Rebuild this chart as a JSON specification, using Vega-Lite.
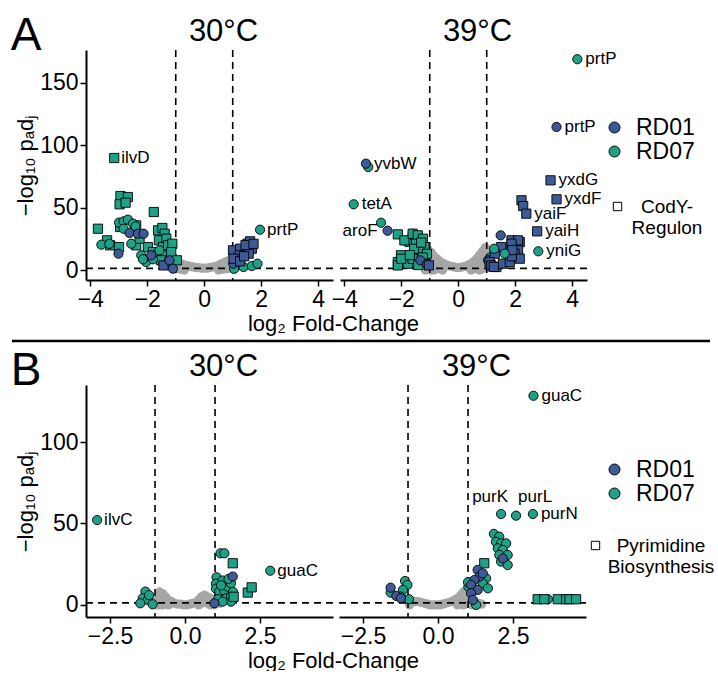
{
  "$schema": "https://vega.github.io/schema/vega-lite/v6.json",
  "background": "white",
  "padding": {"left": 10, "top": 13, "right": 0, "bottom": 0},
  "config": {
    "font": "Liberation Sans",
    "view": {"stroke": null},
    "axis": {"domainColor": "black", "domainWidth": 2, "tickColor": "black", "tickWidth": 1.5, "tickSize": 6, "labelColor": "black", "labelFontSize": 23, "titleFontSize": 22, "titleFontWeight": "normal", "titleColor": "black", "grid": false, "labelPadding": 2, "titlePadding": 2},
    "title": {"fontSize": 31, "fontWeight": "normal", "color": "black", "offset": 1},
    "legend": {"labelColor": "black", "labelFont": "Liberation Sans"}
  },
  "datasets": {
    "vthr": [{"lfc": -1}, {"lfc": 1}],
    "hthr": [{"nlp": 1.3}],
    "sep": [{"a": -0.1186, "b": 1, "s": 0}],
    "a30g": [
      {"lfc": -1.1, "nlp": 8}, {"lfc": -1.1, "nlp": 2}, {"lfc": -1.0, "nlp": 7}, {"lfc": -1.0, "nlp": 1}, {"lfc": -0.9, "nlp": 6}, {"lfc": -0.9, "nlp": 1},
      {"lfc": -0.8, "nlp": 5}, {"lfc": -0.8, "nlp": 0.5}, {"lfc": -0.7, "nlp": 4}, {"lfc": -0.7, "nlp": 0}, {"lfc": -0.6, "nlp": 3.5}, {"lfc": -0.5, "nlp": 3},
      {"lfc": -0.4, "nlp": 2.5}, {"lfc": -0.3, "nlp": 2}, {"lfc": -0.2, "nlp": 2}, {"lfc": -0.1, "nlp": 1.5}, {"lfc": 0, "nlp": 1.5}, {"lfc": 0.1, "nlp": 1.5},
      {"lfc": 0.2, "nlp": 2}, {"lfc": 0.3, "nlp": 2.5}, {"lfc": 0.4, "nlp": 3}, {"lfc": 0.5, "nlp": 3.5}, {"lfc": 0.5, "nlp": 0}, {"lfc": 0.6, "nlp": 5},
      {"lfc": 0.6, "nlp": 0.5}, {"lfc": 0.7, "nlp": 6}, {"lfc": 0.7, "nlp": 1}, {"lfc": 0.8, "nlp": 7}, {"lfc": 0.8, "nlp": 1}, {"lfc": 0.9, "nlp": 8},
      {"lfc": 0.9, "nlp": 1.5}, {"lfc": 1.0, "nlp": 7}, {"lfc": 1.0, "nlp": 1}, {"lfc": 1.1, "nlp": 5}
    ],
    "a39g": [
      {"lfc": -1.15, "nlp": 12}, {"lfc": -1.15, "nlp": 6}, {"lfc": -1.15, "nlp": 0}, {"lfc": -1.05, "nlp": 16}, {"lfc": -1.05, "nlp": 9}, {"lfc": -1.05, "nlp": 2},
      {"lfc": -0.95, "nlp": 14}, {"lfc": -0.95, "nlp": 7}, {"lfc": -0.95, "nlp": 0}, {"lfc": -0.85, "nlp": 11}, {"lfc": -0.85, "nlp": 5}, {"lfc": -0.85, "nlp": 0},
      {"lfc": -0.75, "nlp": 9}, {"lfc": -0.75, "nlp": 3}, {"lfc": -0.65, "nlp": 7}, {"lfc": -0.65, "nlp": 1}, {"lfc": -0.55, "nlp": 5.5}, {"lfc": -0.55, "nlp": 0},
      {"lfc": -0.45, "nlp": 4.5}, {"lfc": -0.35, "nlp": 3.5}, {"lfc": -0.25, "nlp": 3}, {"lfc": -0.15, "nlp": 2.5}, {"lfc": -0.05, "nlp": 2}, {"lfc": 0.05, "nlp": 2},
      {"lfc": 0.15, "nlp": 2.5}, {"lfc": 0.25, "nlp": 3}, {"lfc": 0.35, "nlp": 4}, {"lfc": 0.45, "nlp": 5}, {"lfc": 0.45, "nlp": 0}, {"lfc": 0.55, "nlp": 7},
      {"lfc": 0.55, "nlp": 1}, {"lfc": 0.65, "nlp": 9}, {"lfc": 0.65, "nlp": 3}, {"lfc": 0.75, "nlp": 12}, {"lfc": 0.75, "nlp": 6}, {"lfc": 0.75, "nlp": 0},
      {"lfc": 0.85, "nlp": 15}, {"lfc": 0.85, "nlp": 8}, {"lfc": 0.85, "nlp": 1}, {"lfc": 0.95, "nlp": 18}, {"lfc": 0.95, "nlp": 11}, {"lfc": 0.95, "nlp": 4},
      {"lfc": 1.05, "nlp": 16}, {"lfc": 1.05, "nlp": 9}, {"lfc": 1.05, "nlp": 2}, {"lfc": 1.15, "nlp": 10}, {"lfc": 1.15, "nlp": 4}
    ],
    "b30g": [
      {"lfc": -0.95, "nlp": 3}, {"lfc": -0.95, "nlp": 0}, {"lfc": -0.85, "nlp": 8}, {"lfc": -0.85, "nlp": 4}, {"lfc": -0.85, "nlp": 0}, {"lfc": -0.75, "nlp": 7},
      {"lfc": -0.75, "nlp": 3}, {"lfc": -0.75, "nlp": 0}, {"lfc": -0.65, "nlp": 5}, {"lfc": -0.65, "nlp": 1}, {"lfc": -0.55, "nlp": 3}, {"lfc": -0.55, "nlp": 0},
      {"lfc": -0.45, "nlp": 2}, {"lfc": -0.35, "nlp": 1}, {"lfc": -0.25, "nlp": 0.5}, {"lfc": -0.15, "nlp": 0.5}, {"lfc": -0.05, "nlp": 0}, {"lfc": 0.05, "nlp": 0},
      {"lfc": 0.15, "nlp": 0.5}, {"lfc": 0.25, "nlp": 1}, {"lfc": 0.35, "nlp": 1.5}, {"lfc": 0.45, "nlp": 3}, {"lfc": 0.45, "nlp": 0}, {"lfc": 0.55, "nlp": 5},
      {"lfc": 0.55, "nlp": 1}, {"lfc": 0.65, "nlp": 6}, {"lfc": 0.65, "nlp": 2}, {"lfc": 0.75, "nlp": 5}, {"lfc": 0.75, "nlp": 1}, {"lfc": 0.85, "nlp": 4},
      {"lfc": 0.85, "nlp": 0}, {"lfc": 0.95, "nlp": 3}, {"lfc": 0.95, "nlp": 0}, {"lfc": 1.05, "nlp": 2}, {"lfc": 1.15, "nlp": 1}
    ],
    "b39g": [
      {"lfc": -0.95, "nlp": 3}, {"lfc": -0.95, "nlp": 0}, {"lfc": -0.85, "nlp": 2.5}, {"lfc": -0.75, "nlp": 2}, {"lfc": -0.65, "nlp": 2}, {"lfc": -0.55, "nlp": 1.5},
      {"lfc": -0.45, "nlp": 1}, {"lfc": -0.35, "nlp": 0.5}, {"lfc": -0.25, "nlp": 0}, {"lfc": -0.15, "nlp": 0}, {"lfc": -0.05, "nlp": 0}, {"lfc": 0.05, "nlp": 0},
      {"lfc": 0.15, "nlp": 0.5}, {"lfc": 0.25, "nlp": 1}, {"lfc": 0.35, "nlp": 1.5}, {"lfc": 0.45, "nlp": 2}, {"lfc": 0.55, "nlp": 3}, {"lfc": 0.65, "nlp": 4},
      {"lfc": 0.65, "nlp": 0}, {"lfc": 0.75, "nlp": 6}, {"lfc": 0.75, "nlp": 2}, {"lfc": 0.85, "nlp": 8}, {"lfc": 0.85, "nlp": 4}, {"lfc": 0.85, "nlp": 0},
      {"lfc": 0.95, "nlp": 9}, {"lfc": 0.95, "nlp": 5}, {"lfc": 0.95, "nlp": 1}, {"lfc": 1.05, "nlp": 6}, {"lfc": 1.05, "nlp": 2}, {"lfc": 1.15, "nlp": 3},
      {"lfc": 1.15, "nlp": 0}, {"lfc": 1.25, "nlp": 1.5}, {"lfc": 1.35, "nlp": 1}, {"lfc": 1.45, "nlp": 0.5}
    ],
    "a30": [
      {"lfc": -3.16, "nlp": 89.8, "strain": "RD07", "set": "CodY-Regulon", "gene": "ilvD"},
      {"lfc": -2.94, "nlp": 59.3, "strain": "RD07", "set": "CodY-Regulon"}, {"lfc": -2.68, "nlp": 58.5, "strain": "RD07", "set": "CodY-Regulon"},
      {"lfc": -2.97, "nlp": 52.7, "strain": "RD07", "set": "CodY-Regulon"}, {"lfc": -2.76, "nlp": 54, "strain": "RD07", "set": "CodY-Regulon"},
      {"lfc": -3.73, "nlp": 33.1, "strain": "RD07", "set": "CodY-Regulon"}, {"lfc": -3.41, "nlp": 23.8, "strain": "RD07", "set": "CodY-Regulon"},
      {"lfc": -3.30, "nlp": 19.8, "strain": "RD07", "set": "CodY-Regulon"}, {"lfc": -2.99, "nlp": 18.4, "strain": "RD07", "set": "CodY-Regulon"},
      {"lfc": -2.95, "nlp": 34.5, "strain": "RD07", "set": "CodY-Regulon"}, {"lfc": -2.39, "nlp": 35.8, "strain": "RD07", "set": "CodY-Regulon"},
      {"lfc": -1.77, "nlp": 46.5, "strain": "RD07", "set": "CodY-Regulon"}, {"lfc": -2.39, "nlp": 19.8, "strain": "RD07", "set": "CodY-Regulon"},
      {"lfc": -1.62, "nlp": 31.8, "strain": "RD07", "set": "CodY-Regulon"}, {"lfc": -1.47, "nlp": 33.7, "strain": "RD07", "set": "CodY-Regulon"},
      {"lfc": -1.39, "nlp": 29.1, "strain": "RD07", "set": "CodY-Regulon"}, {"lfc": -1.59, "nlp": 23.8, "strain": "RD07", "set": "CodY-Regulon"},
      {"lfc": -1.33, "nlp": 25.1, "strain": "RD07", "set": "CodY-Regulon"}, {"lfc": -1.45, "nlp": 18.4, "strain": "RD07", "set": "CodY-Regulon"},
      {"lfc": -1.27, "nlp": 19.8, "strain": "RD07", "set": "CodY-Regulon"}, {"lfc": -1.12, "nlp": 21.1, "strain": "RD07", "set": "CodY-Regulon"},
      {"lfc": -1.98, "nlp": 18.4, "strain": "RD07", "set": "CodY-Regulon"}, {"lfc": -1.80, "nlp": 14.4, "strain": "RD07", "set": "CodY-Regulon"},
      {"lfc": -1.62, "nlp": 11.8, "strain": "RD07", "set": "CodY-Regulon"}, {"lfc": -1.33, "nlp": 11.8, "strain": "RD07", "set": "CodY-Regulon"},
      {"lfc": -1.16, "nlp": 14.4, "strain": "RD07", "set": "CodY-Regulon"}, {"lfc": -1.51, "nlp": 7.8, "strain": "RD07", "set": "CodY-Regulon"},
      {"lfc": -1.22, "nlp": 6.4, "strain": "RD07", "set": "CodY-Regulon"}, {"lfc": -2.27, "nlp": 25.1, "strain": "RD07", "set": "CodY-Regulon"},
      {"lfc": -0.96, "nlp": 7.8, "strain": "RD07", "set": "CodY-Regulon"},
      {"lfc": -3.61, "nlp": 20.3, "strain": "RD07", "set": "Other"}, {"lfc": -3.33, "nlp": 21, "strain": "RD07", "set": "Other"},
      {"lfc": -2.99, "nlp": 38, "strain": "RD07", "set": "Other"}, {"lfc": -2.83, "nlp": 39, "strain": "RD07", "set": "Other"},
      {"lfc": -2.68, "nlp": 40.4, "strain": "RD07", "set": "Other"}, {"lfc": -2.50, "nlp": 37.2, "strain": "RD07", "set": "Other"},
      {"lfc": -2.41, "nlp": 35, "strain": "RD07", "set": "Other"}, {"lfc": -2.83, "nlp": 33.1, "strain": "RD07", "set": "Other"},
      {"lfc": -2.56, "nlp": 21.1, "strain": "RD07", "set": "Other"}, {"lfc": -2.21, "nlp": 11.8, "strain": "RD07", "set": "Other"},
      {"lfc": -2.04, "nlp": 6.4, "strain": "RD07", "set": "Other"}, {"lfc": -2.15, "nlp": 8.6, "strain": "RD07", "set": "Other"},
      {"lfc": -1.57, "nlp": 15.8, "strain": "RD07", "set": "Other"}, {"lfc": -1.80, "nlp": 8.6, "strain": "RD07", "set": "Other"},
      {"lfc": 1.09, "nlp": 2.4, "strain": "RD07", "set": "Other"}, {"lfc": 1.38, "nlp": 2.4, "strain": "RD07", "set": "Other"},
      {"lfc": 1.67, "nlp": 3.2, "strain": "RD07", "set": "Other"}, {"lfc": 1.87, "nlp": 5.1, "strain": "RD07", "set": "Other"},
      {"lfc": 1.05, "nlp": 1.0, "strain": "RD07", "set": "Other"}, {"lfc": 1.96, "nlp": 32.3, "strain": "RD07", "set": "Other", "gene": "prtP"},
      {"lfc": -1.43, "nlp": 3.7, "strain": "RD01", "set": "CodY-Regulon"},
      {"lfc": -3.01, "nlp": 13.1, "strain": "RD01", "set": "Other"}, {"lfc": -2.62, "nlp": 29.7, "strain": "RD01", "set": "Other"},
      {"lfc": -2.33, "nlp": 29.1, "strain": "RD01", "set": "Other"}, {"lfc": -2.13, "nlp": 29.1, "strain": "RD01", "set": "Other"},
      {"lfc": -1.86, "nlp": 11.8, "strain": "RD01", "set": "Other"}, {"lfc": -1.22, "nlp": 7.8, "strain": "RD01", "set": "Other"},
      {"lfc": -1.10, "nlp": 1.1, "strain": "RD01", "set": "Other"}, {"lfc": 1.02, "nlp": 5.1, "strain": "RD01", "set": "Other"},
      {"lfc": 1.01, "nlp": 15.8, "strain": "RD01", "set": "CodY-Regulon"}, {"lfc": 1.26, "nlp": 17.1, "strain": "RD01", "set": "CodY-Regulon"},
      {"lfc": 1.24, "nlp": 11.8, "strain": "RD01", "set": "CodY-Regulon"}, {"lfc": 1.52, "nlp": 21.1, "strain": "RD01", "set": "CodY-Regulon"},
      {"lfc": 1.61, "nlp": 23.0, "strain": "RD01", "set": "CodY-Regulon"}, {"lfc": 1.67, "nlp": 17.1, "strain": "RD01", "set": "CodY-Regulon"},
      {"lfc": 1.56, "nlp": 13.1, "strain": "RD01", "set": "CodY-Regulon"}, {"lfc": 1.03, "nlp": 9.1, "strain": "RD01", "set": "CodY-Regulon"},
      {"lfc": 1.26, "nlp": 7.0, "strain": "RD01", "set": "CodY-Regulon"}, {"lfc": 1.45, "nlp": 20, "strain": "RD01", "set": "CodY-Regulon"},
      {"lfc": 1.73, "nlp": 21, "strain": "RD01", "set": "CodY-Regulon"}, {"lfc": 1.40, "nlp": 11, "strain": "RD01", "set": "CodY-Regulon"}
    ],
    "a39": [
      {"lfc": 4.18, "nlp": 169, "strain": "RD07", "set": "Other", "gene": "prtP"}, {"lfc": -3.16, "nlp": 82.6, "strain": "RD07", "set": "Other"},
      {"lfc": -3.67, "nlp": 52.7, "strain": "RD07", "set": "Other", "gene": "tetA"}, {"lfc": -2.71, "nlp": 37.9, "strain": "RD07", "set": "Other"},
      {"lfc": -1.80, "nlp": 22.4, "strain": "RD07", "set": "Other"}, {"lfc": -1.6, "nlp": 29, "strain": "RD07", "set": "Other"},
      {"lfc": 2.81, "nlp": 15, "strain": "RD07", "set": "Other", "gene": "yniG"}, {"lfc": 1.12, "nlp": 10, "strain": "RD07", "set": "Other"},
      {"lfc": -2.12, "nlp": 28.6, "strain": "RD07", "set": "CodY-Regulon"}, {"lfc": -1.89, "nlp": 23.8, "strain": "RD07", "set": "CodY-Regulon"},
      {"lfc": -1.60, "nlp": 29.1, "strain": "RD07", "set": "CodY-Regulon"}, {"lfc": -1.42, "nlp": 27.8, "strain": "RD07", "set": "CodY-Regulon"},
      {"lfc": -1.24, "nlp": 25.1, "strain": "RD07", "set": "CodY-Regulon"}, {"lfc": -1.48, "nlp": 21.1, "strain": "RD07", "set": "CodY-Regulon"},
      {"lfc": -1.18, "nlp": 18.4, "strain": "RD07", "set": "CodY-Regulon"}, {"lfc": -1.36, "nlp": 14.4, "strain": "RD07", "set": "CodY-Regulon"},
      {"lfc": -1.10, "nlp": 13, "strain": "RD07", "set": "CodY-Regulon"}, {"lfc": -2.12, "nlp": 6.4, "strain": "RD07", "set": "CodY-Regulon"},
      {"lfc": -2.01, "nlp": 11.8, "strain": "RD07", "set": "CodY-Regulon"}, {"lfc": -1.77, "nlp": 5.1, "strain": "RD07", "set": "CodY-Regulon"},
      {"lfc": -1.6, "nlp": 9, "strain": "RD07", "set": "CodY-Regulon"}, {"lfc": -2.12, "nlp": 3.7, "strain": "RD07", "set": "CodY-Regulon"},
      {"lfc": -2.0, "nlp": 9, "strain": "RD07", "set": "CodY-Regulon"}, {"lfc": -1.55, "nlp": 17, "strain": "RD07", "set": "CodY-Regulon"},
      {"lfc": -1.3, "nlp": 22, "strain": "RD07", "set": "CodY-Regulon"}, {"lfc": -1.7, "nlp": 12, "strain": "RD07", "set": "CodY-Regulon"},
      {"lfc": -1.4, "nlp": 4, "strain": "RD07", "set": "CodY-Regulon"}, {"lfc": -1.25, "nlp": 10, "strain": "RD07", "set": "CodY-Regulon"},
      {"lfc": 3.45, "nlp": 114.7, "strain": "RD01", "set": "Other", "gene": "prtP"}, {"lfc": -3.24, "nlp": 85.3, "strain": "RD01", "set": "Other", "gene": "yvbW"},
      {"lfc": -2.48, "nlp": 31.5, "strain": "RD01", "set": "Other", "gene": "aroF"}, {"lfc": -1.33, "nlp": 7.8, "strain": "RD01", "set": "Other"},
      {"lfc": -1.1, "nlp": 5, "strain": "RD01", "set": "Other"}, {"lfc": 1.49, "nlp": 27.8, "strain": "RD01", "set": "Other"},
      {"lfc": 1.05, "nlp": 7.8, "strain": "RD01", "set": "Other"}, {"lfc": -1.03, "nlp": 3.7, "strain": "RD01", "set": "CodY-Regulon"},
      {"lfc": 3.24, "nlp": 71.9, "strain": "RD01", "set": "CodY-Regulon", "gene": "yxdG"}, {"lfc": 3.45, "nlp": 56.7, "strain": "RD01", "set": "CodY-Regulon", "gene": "yxdF"},
      {"lfc": 2.22, "nlp": 55.9, "strain": "RD01", "set": "CodY-Regulon"}, {"lfc": 2.28, "nlp": 51.3, "strain": "RD01", "set": "CodY-Regulon"},
      {"lfc": 2.39, "nlp": 45.2, "strain": "RD01", "set": "CodY-Regulon", "gene": "yaiF"}, {"lfc": 2.77, "nlp": 31.0, "strain": "RD01", "set": "CodY-Regulon", "gene": "yaiH"},
      {"lfc": 1.87, "nlp": 23.8, "strain": "RD01", "set": "CodY-Regulon"}, {"lfc": 2.16, "nlp": 22.4, "strain": "RD01", "set": "CodY-Regulon"},
      {"lfc": 2.10, "nlp": 15.8, "strain": "RD01", "set": "CodY-Regulon"}, {"lfc": 1.98, "nlp": 13.1, "strain": "RD01", "set": "CodY-Regulon"},
      {"lfc": 1.69, "nlp": 17.1, "strain": "RD01", "set": "CodY-Regulon"}, {"lfc": 1.51, "nlp": 18.4, "strain": "RD01", "set": "CodY-Regulon"},
      {"lfc": 1.28, "nlp": 13.1, "strain": "RD01", "set": "CodY-Regulon"}, {"lfc": 1.10, "nlp": 6.4, "strain": "RD01", "set": "CodY-Regulon"},
      {"lfc": 1.34, "nlp": 2.4, "strain": "RD01", "set": "CodY-Regulon"}, {"lfc": 1.57, "nlp": 5.1, "strain": "RD01", "set": "CodY-Regulon"},
      {"lfc": 1.81, "nlp": 6.4, "strain": "RD01", "set": "CodY-Regulon"}, {"lfc": 2.16, "nlp": 9.1, "strain": "RD01", "set": "CodY-Regulon"},
      {"lfc": 1.88, "nlp": 11, "strain": "RD01", "set": "CodY-Regulon"}, {"lfc": 2.10, "nlp": 23.8, "strain": "RD01", "set": "CodY-Regulon"},
      {"lfc": 1.87, "nlp": 21.1, "strain": "RD01", "set": "CodY-Regulon"}, {"lfc": 1.9, "nlp": 16, "strain": "RD01", "set": "CodY-Regulon"},
      {"lfc": 1.16, "nlp": 3.7, "strain": "RD01", "set": "CodY-Regulon"}, {"lfc": 1.25, "nlp": 2.5, "strain": "RD01", "set": "CodY-Regulon"},
      {"lfc": 1.26, "nlp": 17.1, "strain": "RD07", "set": "Other"}, {"lfc": 1.63, "nlp": 13.1, "strain": "RD07", "set": "Other"}
    ],
    "b30": [
      {"lfc": -2.93, "nlp": 52.1, "strain": "RD07", "set": "Other", "gene": "ilvC"}, {"lfc": 2.84, "nlp": 21, "strain": "RD07", "set": "Other", "gene": "guaC"},
      {"lfc": -1.32, "nlp": 8.2, "strain": "RD07", "set": "Other"}, {"lfc": -1.41, "nlp": 4.1, "strain": "RD07", "set": "Other"},
      {"lfc": -1.24, "nlp": 3.1, "strain": "RD07", "set": "Other"}, {"lfc": -1.08, "nlp": 0.4, "strain": "RD07", "set": "Other"},
      {"lfc": -1.49, "nlp": 1.0, "strain": "RD07", "set": "Other"}, {"lfc": -1.2, "nlp": 6, "strain": "RD07", "set": "Other"},
      {"lfc": 1.18, "nlp": 31.7, "strain": "RD07", "set": "Other"}, {"lfc": 1.31, "nlp": 31.7, "strain": "RD07", "set": "Other"},
      {"lfc": 1.05, "nlp": 17, "strain": "RD07", "set": "Other"}, {"lfc": 1.03, "nlp": 13, "strain": "RD07", "set": "Other"},
      {"lfc": 1.03, "nlp": 10, "strain": "RD07", "set": "Other"}, {"lfc": 1.14, "nlp": 8.2, "strain": "RD07", "set": "Other"},
      {"lfc": 1.30, "nlp": 9, "strain": "RD07", "set": "Other"}, {"lfc": 1.42, "nlp": 11.2, "strain": "RD07", "set": "Other"},
      {"lfc": 1.53, "nlp": 13.3, "strain": "RD07", "set": "Other"}, {"lfc": 1.37, "nlp": 4.1, "strain": "RD07", "set": "Other"},
      {"lfc": 1.53, "nlp": 5.1, "strain": "RD07", "set": "Other"}, {"lfc": 1.10, "nlp": 3.5, "strain": "RD07", "set": "Other"},
      {"lfc": 1.53, "nlp": 2.0, "strain": "RD07", "set": "Other"}, {"lfc": 1.25, "nlp": 15, "strain": "RD07", "set": "Other"},
      {"lfc": 1.45, "nlp": 16, "strain": "RD07", "set": "Other"}, {"lfc": 1.2, "nlp": 12, "strain": "RD07", "set": "Other"},
      {"lfc": 1.6, "nlp": 8, "strain": "RD07", "set": "Other"}, {"lfc": 1.25, "nlp": 2, "strain": "RD07", "set": "Other"},
      {"lfc": 1.59, "nlp": 25.6, "strain": "RD07", "set": "Pyrimidine Biosynthesis"}, {"lfc": 2.09, "nlp": 7.6, "strain": "RD07", "set": "Pyrimidine Biosynthesis"},
      {"lfc": 2.22, "nlp": 10.8, "strain": "RD07", "set": "Pyrimidine Biosynthesis"}, {"lfc": 1.62, "nlp": 5, "strain": "RD07", "set": "Pyrimidine Biosynthesis"},
      {"lfc": 1.59, "nlp": 17.4, "strain": "RD01", "set": "Other"}, {"lfc": 0.98, "nlp": 1.0, "strain": "RD01", "set": "Other"}
    ],
    "b39": [
      {"lfc": 3.18, "nlp": 128.4, "strain": "RD07", "set": "Other", "gene": "guaC"}, {"lfc": 2.10, "nlp": 55.8, "strain": "RD07", "set": "Other", "gene": "purK"},
      {"lfc": 2.60, "nlp": 54.8, "strain": "RD07", "set": "Other", "gene": "purL"}, {"lfc": 3.16, "nlp": 55.8, "strain": "RD07", "set": "Other", "gene": "purN"},
      {"lfc": 1.86, "nlp": 43.6, "strain": "RD07", "set": "Other"}, {"lfc": 2.04, "nlp": 41.9, "strain": "RD07", "set": "Other"},
      {"lfc": 1.93, "nlp": 38.8, "strain": "RD07", "set": "Other"}, {"lfc": 2.10, "nlp": 37.8, "strain": "RD07", "set": "Other"},
      {"lfc": 2.27, "nlp": 37.8, "strain": "RD07", "set": "Other"}, {"lfc": 1.99, "nlp": 34.8, "strain": "RD07", "set": "Other"},
      {"lfc": 2.16, "nlp": 33.7, "strain": "RD07", "set": "Other"}, {"lfc": 2.32, "nlp": 30.7, "strain": "RD07", "set": "Other"},
      {"lfc": 2.04, "nlp": 30.7, "strain": "RD07", "set": "Other"}, {"lfc": 2.10, "nlp": 26.6, "strain": "RD07", "set": "Other"},
      {"lfc": 2.32, "nlp": 24.5, "strain": "RD07", "set": "Other"}, {"lfc": 1.60, "nlp": 16.4, "strain": "RD07", "set": "Other"},
      {"lfc": 1.49, "nlp": 13.3, "strain": "RD07", "set": "Other"}, {"lfc": 1.66, "nlp": 10.2, "strain": "RD07", "set": "Other"},
      {"lfc": 1.01, "nlp": 11.2, "strain": "RD07", "set": "Other"}, {"lfc": 1.27, "nlp": 0, "strain": "RD07", "set": "Other"},
      {"lfc": 1.0, "nlp": 14, "strain": "RD07", "set": "Other"}, {"lfc": 3.66, "nlp": 3.5, "strain": "RD07", "set": "Other"},
      {"lfc": -1.58, "nlp": 7.6, "strain": "RD07", "set": "Other"}, {"lfc": -1.10, "nlp": 14.7, "strain": "RD07", "set": "Other"},
      {"lfc": -1.02, "nlp": 12.3, "strain": "RD07", "set": "Other"}, {"lfc": -1.17, "nlp": 9.2, "strain": "RD07", "set": "Other"},
      {"lfc": -0.97, "nlp": 3.5, "strain": "RD07", "set": "Other"}, {"lfc": -1.24, "nlp": 5.1, "strain": "RD07", "set": "Other"},
      {"lfc": 1.54, "nlp": 25.6, "strain": "RD07", "set": "Pyrimidine Biosynthesis"}, {"lfc": 3.32, "nlp": 3.5, "strain": "RD07", "set": "Pyrimidine Biosynthesis"},
      {"lfc": 3.54, "nlp": 3.5, "strain": "RD07", "set": "Pyrimidine Biosynthesis"}, {"lfc": 3.99, "nlp": 3.5, "strain": "RD07", "set": "Pyrimidine Biosynthesis"},
      {"lfc": 4.27, "nlp": 3.5, "strain": "RD07", "set": "Pyrimidine Biosynthesis"}, {"lfc": 4.38, "nlp": 3.5, "strain": "RD07", "set": "Pyrimidine Biosynthesis"},
      {"lfc": 4.6, "nlp": 3.5, "strain": "RD07", "set": "Pyrimidine Biosynthesis"},
      {"lfc": 2.16, "nlp": 28.6, "strain": "RD01", "set": "Other"}, {"lfc": 1.32, "nlp": 21.5, "strain": "RD01", "set": "Other"},
      {"lfc": 1.38, "nlp": 17.4, "strain": "RD01", "set": "Other"}, {"lfc": 1.49, "nlp": 19.4, "strain": "RD01", "set": "Other"},
      {"lfc": 1.21, "nlp": 15.3, "strain": "RD01", "set": "Other"}, {"lfc": 1.10, "nlp": 12.3, "strain": "RD01", "set": "Other"},
      {"lfc": 1.32, "nlp": 9.2, "strain": "RD01", "set": "Other"}, {"lfc": 1.10, "nlp": 7.2, "strain": "RD01", "set": "Other"},
      {"lfc": 1.16, "nlp": 3.1, "strain": "RD01", "set": "Other"}, {"lfc": -1.58, "nlp": 10.6, "strain": "RD01", "set": "Other"},
      {"lfc": -1.39, "nlp": 5.5, "strain": "RD01", "set": "Other"}, {"lfc": -1.24, "nlp": 4.1, "strain": "RD01", "set": "Other"}
    ]
  },
  "spacing": 5,
  "resolve": {"scale": {"color": "independent", "shape": "independent"}, "legend": {"color": "independent", "shape": "independent"}},
  "vconcat": [
    {
      "title": {"text": "A", "anchor": "start", "fontSize": 46, "dy": 44, "dx": -4, "offset": 0},
      "bounds": "flush",
      "spacing": 7,
      "hconcat": [
        {
          "width": 247, "height": 230,
          "title": {"text": "30°C", "frame": "group", "dx": 14},
          "layer": [
            {"data": {"name": "a30g"}, "mark": {"type": "point", "filled": true, "color": "#a6a6a6", "size": 85, "opacity": 1, "strokeWidth": 0},
             "encoding": {"x": {"field": "lfc", "type": "quantitative", "scale": {"domain": [-4.15, 4.52], "nice": false, "zero": false}, "axis": {"values": [-4, -2, 0, 2, 4], "title": "log₂ Fold-Change", "titleAnchor": "end", "titleAlign": "center"}},
                          "y": {"field": "nlp", "type": "quantitative", "scale": {"domain": [-8, 176.4], "nice": false, "zero": false}, "axis": {"values": [0, 50, 100, 150], "title": "−log₁₀ pₐdⱼ"}}}},
            {"data": {"name": "vthr"}, "mark": {"type": "rule", "strokeDash": [7, 5], "strokeWidth": 1.6, "color": "black"},
             "encoding": {"x": {"field": "lfc", "type": "quantitative"}}},
            {"data": {"name": "hthr"}, "mark": {"type": "rule", "strokeDash": [7, 5], "strokeWidth": 1.6, "color": "black"},
             "encoding": {"y": {"field": "nlp", "type": "quantitative"}}},
            {"data": {"name": "a30"}, "mark": {"type": "point", "filled": true, "stroke": "black", "strokeWidth": 0.9, "size": 85, "opacity": 1},
             "encoding": {"x": {"field": "lfc", "type": "quantitative"}, "y": {"field": "nlp", "type": "quantitative"},
                          "color": {"field": "strain", "type": "nominal", "scale": {"domain": ["RD01", "RD07"], "range": ["#3d5a96", "#1fa187"]},
                                    "legend": {"title": null, "orient": "none", "legendX": 517, "legendY": 66, "symbolType": "circle", "symbolSize": 120, "symbolStrokeColor": "black", "symbolStrokeWidth": 1, "labelFontSize": 23, "labelOffset": 10, "rowPadding": -6, "padding": 0, "symbolOpacity": 1,
                                               "encode": {"symbols": {"update": {"stroke": {"value": "black"}, "strokeWidth": {"value": 1}}}}}},
                          "shape": {"field": "set", "type": "nominal", "scale": {"domain": ["Other", "CodY-Regulon"], "range": ["circle", "square"]},
                                    "legend": {"title": null, "orient": "none", "legendX": 522, "legendY": 147, "values": ["CodY-Regulon"], "symbolSize": 70, "symbolFillColor": "white", "symbolStrokeColor": "black", "symbolStrokeWidth": 1, "labelFontSize": 19, "labelAlign": "center", "labelOffset": 40, "padding": 0,
                                               "labelExpr": "datum.label == 'CodY-Regulon' ? ['CodY-', 'Regulon'] : datum.label",
                                               "encode": {"symbols": {"update": {"fill": {"value": "white"}, "stroke": {"value": "black"}, "strokeWidth": {"value": 1}}}, "labels": {"update": {"lineHeight": {"value": 26}}}}}}}},
            {"data": {"name": "a30"}, "transform": [{"filter": "indexof(['ilvD','prtP'], datum.gene) >= 0"}],
             "mark": {"type": "text", "align": "left", "baseline": "middle", "dx": 7, "fontSize": 17, "color": "black"},
             "encoding": {"x": {"field": "lfc", "type": "quantitative"}, "y": {"field": "nlp", "type": "quantitative"}, "text": {"field": "gene"}}}
          ]
        },
        {
          "width": 247, "height": 230,
          "title": {"text": "39°C", "frame": "group", "dx": 14},
          "layer": [
            {"data": {"name": "a39g"}, "mark": {"type": "point", "filled": true, "color": "#a6a6a6", "size": 85, "opacity": 1, "strokeWidth": 0},
             "encoding": {"x": {"field": "lfc", "type": "quantitative", "scale": {"domain": [-4.15, 4.52], "nice": false, "zero": false}, "axis": {"values": [-4, -2, 0, 2, 4], "title": null}},
                          "y": {"field": "nlp", "type": "quantitative", "scale": {"domain": [-8, 176.4], "nice": false, "zero": false}, "axis": null}}},
            {"data": {"name": "vthr"}, "mark": {"type": "rule", "strokeDash": [7, 5], "strokeWidth": 1.6, "color": "black"},
             "encoding": {"x": {"field": "lfc", "type": "quantitative"}}},
            {"data": {"name": "hthr"}, "mark": {"type": "rule", "strokeDash": [7, 5], "strokeWidth": 1.6, "color": "black"},
             "encoding": {"y": {"field": "nlp", "type": "quantitative", "axis": null}}},
            {"data": {"name": "a39"}, "mark": {"type": "point", "filled": true, "stroke": "black", "strokeWidth": 0.9, "size": 85, "opacity": 1},
             "encoding": {"x": {"field": "lfc", "type": "quantitative"}, "y": {"field": "nlp", "type": "quantitative", "axis": null},
                          "color": {"field": "strain", "type": "nominal", "scale": {"domain": ["RD01", "RD07"], "range": ["#3d5a96", "#1fa187"]}},
                          "shape": {"field": "set", "type": "nominal", "scale": {"domain": ["Other", "CodY-Regulon"], "range": ["circle", "square"]}}}},
            {"data": {"name": "a39"}, "transform": [{"filter": "indexof(['prtP','yvbW','tetA','yxdG','yxdF','yaiF','yaiH','yniG'], datum.gene) >= 0"}],
             "mark": {"type": "text", "align": "left", "baseline": "middle", "dx": 8, "fontSize": 17, "color": "black"},
             "encoding": {"x": {"field": "lfc", "type": "quantitative"}, "y": {"field": "nlp", "type": "quantitative", "axis": null}, "text": {"field": "gene"}}},
            {"data": {"name": "a39"}, "transform": [{"filter": "datum.gene == 'aroF'"}],
             "mark": {"type": "text", "align": "right", "baseline": "middle", "dx": -10, "fontSize": 17, "color": "black"},
             "encoding": {"x": {"field": "lfc", "type": "quantitative"}, "y": {"field": "nlp", "type": "quantitative", "axis": null}, "text": {"field": "gene"}}}
          ]
        }
      ]
    },
    {
      "width": 624, "height": 1,
      "data": {"name": "sep"},
      "mark": {"type": "rule", "strokeWidth": 2.5, "color": "black", "clip": false},
      "encoding": {
        "x": {"field": "a", "type": "quantitative", "scale": {"domain": [0, 1], "nice": false, "zero": false}, "axis": null},
        "x2": {"field": "b"},
        "y": {"field": "s", "type": "quantitative", "scale": {"domain": [0, 1]}, "axis": null}
      }
    },
    {
      "title": {"text": "B", "anchor": "start", "fontSize": 46, "dy": 44, "dx": -4, "offset": 0},
      "bounds": "flush",
      "spacing": 6,
      "hconcat": [
        {
          "width": 247, "height": 232,
          "title": {"text": "30°C", "frame": "group", "dx": 14},
          "layer": [
            {"data": {"name": "b30g"}, "mark": {"type": "point", "filled": true, "color": "#a6a6a6", "size": 85, "opacity": 1, "strokeWidth": 0},
             "encoding": {"x": {"field": "lfc", "type": "quantitative", "scale": {"domain": [-3.3, 4.93], "nice": false, "zero": false}, "axis": {"values": [-2.5, 0, 2.5], "format": ".1f", "title": "log₂ Fold-Change", "titleAnchor": "end", "titleAlign": "center"}},
                          "y": {"field": "nlp", "type": "quantitative", "scale": {"domain": [-7.4, 135], "nice": false, "zero": false}, "axis": {"values": [0, 50, 100], "title": "−log₁₀ pₐdⱼ"}}}},
            {"data": {"name": "vthr"}, "mark": {"type": "rule", "strokeDash": [7, 5], "strokeWidth": 1.6, "color": "black"},
             "encoding": {"x": {"field": "lfc", "type": "quantitative"}}},
            {"data": {"name": "hthr"}, "mark": {"type": "rule", "strokeDash": [7, 5], "strokeWidth": 1.6, "color": "black"},
             "encoding": {"y": {"field": "nlp", "type": "quantitative"}}},
            {"data": {"name": "b30"}, "mark": {"type": "point", "filled": true, "stroke": "black", "strokeWidth": 0.9, "size": 85, "opacity": 1},
             "encoding": {"x": {"field": "lfc", "type": "quantitative"}, "y": {"field": "nlp", "type": "quantitative"},
                          "color": {"field": "strain", "type": "nominal", "scale": {"domain": ["RD01", "RD07"], "range": ["#3d5a96", "#1fa187"]},
                                    "legend": {"title": null, "orient": "none", "legendX": 517, "legendY": 73, "symbolType": "circle", "symbolSize": 120, "symbolStrokeColor": "black", "symbolStrokeWidth": 1, "labelFontSize": 23, "labelOffset": 10, "rowPadding": -6, "padding": 0, "symbolOpacity": 1,
                                               "encode": {"symbols": {"update": {"stroke": {"value": "black"}, "strokeWidth": {"value": 1}}}}}},
                          "shape": {"field": "set", "type": "nominal", "scale": {"domain": ["Other", "Pyrimidine Biosynthesis"], "range": ["circle", "square"]},
                                    "legend": {"title": null, "orient": "none", "legendX": 500, "legendY": 151, "values": ["Pyrimidine Biosynthesis"], "symbolSize": 70, "symbolFillColor": "white", "symbolStrokeColor": "black", "symbolStrokeWidth": 1, "labelFontSize": 19, "labelAlign": "center", "labelOffset": 56, "padding": 0,
                                               "labelExpr": "datum.label == 'Pyrimidine Biosynthesis' ? ['Pyrimidine', 'Biosynthesis'] : datum.label",
                                               "encode": {"symbols": {"update": {"fill": {"value": "white"}, "stroke": {"value": "black"}, "strokeWidth": {"value": 1}}}, "labels": {"update": {"lineHeight": {"value": 26}}}}}}}},
            {"data": {"name": "b30"}, "transform": [{"filter": "indexof(['ilvC','guaC'], datum.gene) >= 0"}],
             "mark": {"type": "text", "align": "left", "baseline": "middle", "dx": 7, "fontSize": 17, "color": "black"},
             "encoding": {"x": {"field": "lfc", "type": "quantitative"}, "y": {"field": "nlp", "type": "quantitative"}, "text": {"field": "gene"}}}
          ]
        },
        {
          "width": 247, "height": 232,
          "title": {"text": "39°C", "frame": "group", "dx": 14},
          "layer": [
            {"data": {"name": "b39g"}, "mark": {"type": "point", "filled": true, "color": "#a6a6a6", "size": 85, "opacity": 1, "strokeWidth": 0},
             "encoding": {"x": {"field": "lfc", "type": "quantitative", "scale": {"domain": [-3.3, 4.93], "nice": false, "zero": false}, "axis": {"values": [-2.5, 0, 2.5], "format": ".1f", "title": null}},
                          "y": {"field": "nlp", "type": "quantitative", "scale": {"domain": [-7.4, 135], "nice": false, "zero": false}, "axis": null}}},
            {"data": {"name": "vthr"}, "mark": {"type": "rule", "strokeDash": [7, 5], "strokeWidth": 1.6, "color": "black"},
             "encoding": {"x": {"field": "lfc", "type": "quantitative"}}},
            {"data": {"name": "hthr"}, "mark": {"type": "rule", "strokeDash": [7, 5], "strokeWidth": 1.6, "color": "black"},
             "encoding": {"y": {"field": "nlp", "type": "quantitative", "axis": null}}},
            {"data": {"name": "b39"}, "mark": {"type": "point", "filled": true, "stroke": "black", "strokeWidth": 0.9, "size": 85, "opacity": 1},
             "encoding": {"x": {"field": "lfc", "type": "quantitative"}, "y": {"field": "nlp", "type": "quantitative", "axis": null},
                          "color": {"field": "strain", "type": "nominal", "scale": {"domain": ["RD01", "RD07"], "range": ["#3d5a96", "#1fa187"]}},
                          "shape": {"field": "set", "type": "nominal", "scale": {"domain": ["Other", "Pyrimidine Biosynthesis"], "range": ["circle", "square"]}}}},
            {"data": {"name": "b39"}, "transform": [{"filter": "indexof(['guaC','purN'], datum.gene) >= 0"}],
             "mark": {"type": "text", "align": "left", "baseline": "middle", "dx": 8, "fontSize": 17, "color": "black"},
             "encoding": {"x": {"field": "lfc", "type": "quantitative"}, "y": {"field": "nlp", "type": "quantitative", "axis": null}, "text": {"field": "gene"}}},
            {"data": {"name": "b39"}, "transform": [{"filter": "datum.gene == 'purK'"}],
             "mark": {"type": "text", "align": "right", "baseline": "middle", "dx": 7, "dy": -17, "fontSize": 17, "color": "black"},
             "encoding": {"x": {"field": "lfc", "type": "quantitative"}, "y": {"field": "nlp", "type": "quantitative", "axis": null}, "text": {"field": "gene"}}},
            {"data": {"name": "b39"}, "transform": [{"filter": "datum.gene == 'purL'"}],
             "mark": {"type": "text", "align": "left", "baseline": "middle", "dx": 2, "dy": -19, "fontSize": 17, "color": "black"},
             "encoding": {"x": {"field": "lfc", "type": "quantitative"}, "y": {"field": "nlp", "type": "quantitative", "axis": null}, "text": {"field": "gene"}}}
          ]
        }
      ]
    }
  ]
}
